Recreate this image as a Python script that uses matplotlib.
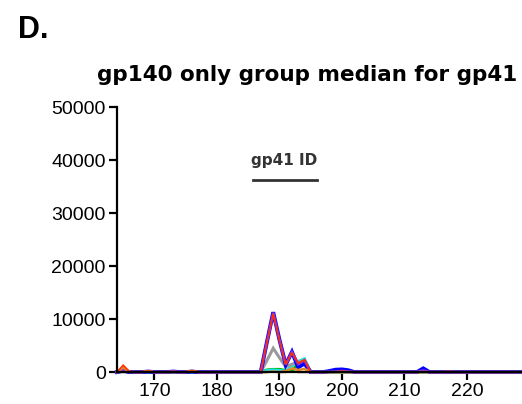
import matplotlib
matplotlib.use("Agg")
import matplotlib.pyplot as plt

plt.rcParams['font.family'] = ['Liberation Sans', 'DejaVu Sans']

# positions 164..229
positions = list(range(164, 230))

# each series: 6 rows of 11 values (164-174, 175-185, 186-196, 197-207, 208-218, 219-229)
red = ([0, 1300, 100, 0, 0, 200, 0, 0, 0, 100, 0] +
       [0, 250, 0, 0, 0, 0, 0, 0, 0, 0, 0] +
       [0, 0, 5600, 11000, 6000, 1400, 3700, 1700, 2300, 0, 0] +
       [0, 0, 0, 200, 0, 0, 0, 0, 0, 0, 0] +
       [0, 0, 0, 0, 0, 0, 0, 0, 0, 150, 0] +
       [0, 0, 0, 0, 0, 0, 0, 0, 0, 0, 0])
purple = ([0, 400, 100, 0, 0, 150, 0, 0, 0, 150, 0] +
          [0, 150, 0, 0, 0, 0, 0, 0, 0, 0, 0] +
          [0, 0, 5650, 11200, 6050, 1450, 3750, 1500, 2200, 0, 0] +
          [0, 0, 100, 200, 100, 0, 0, 0, 0, 0, 0] +
          [0, 0, 0, 0, 0, 300, 0, 0, 0, 0, 0] +
          [0, 0, 0, 0, 0, 0, 0, 0, 0, 0, 0])
blue = ([0, 250, 0, 0, 0, 100, 0, 0, 0, 100, 0] +
        [0, 100, 0, 0, 0, 0, 0, 0, 0, 0, 0] +
        [0, 0, 5700, 11300, 6100, 1400, 3800, 900, 1600, 0, 0] +
        [0, 200, 450, 500, 350, 0, 0, 0, 0, 0, 0] +
        [0, 0, 0, 0, 0, 700, 0, 0, 0, 0, 0] +
        [0, 0, 0, 0, 0, 0, 0, 0, 0, 0, 0])
gray = ([0, 300, 0, 0, 0, 0, 0, 0, 0, 0, 0] +
        [0, 0, 0, 0, 0, 0, 0, 0, 0, 0, 0] +
        [0, 0, 2200, 4500, 2700, 1000, 1500, 1800, 2200, 0, 0] +
        [0, 0, 0, 0, 0, 0, 0, 0, 0, 0, 0] +
        [0, 0, 0, 0, 0, 0, 0, 0, 0, 0, 0] +
        [0, 0, 0, 0, 0, 0, 0, 0, 0, 0, 0])
green = ([0, 600, 0, 0, 0, 0, 0, 0, 0, 0, 0] +
         [0, 0, 0, 0, 0, 0, 0, 0, 0, 0, 0] +
         [0, 0, 400, 500, 500, 300, 300, 1500, 2100, 0, 0] +
         [0, 0, 0, 0, 0, 0, 0, 0, 0, 0, 0] +
         [0, 0, 0, 0, 0, 0, 0, 0, 0, 0, 0] +
         [0, 0, 0, 0, 0, 0, 0, 0, 0, 0, 0])
cyan = ([0, 200, 0, 0, 0, 0, 0, 0, 0, 0, 0] +
        [0, 0, 0, 0, 0, 0, 0, 0, 0, 0, 0] +
        [0, 0, 300, 400, 300, 200, 1200, 2000, 2500, 0, 0] +
        [0, 0, 0, 0, 0, 0, 0, 0, 0, 0, 0] +
        [0, 0, 0, 0, 0, 0, 0, 0, 0, 0, 0] +
        [0, 0, 0, 0, 0, 0, 0, 0, 0, 0, 0])
orange = ([0, 900, 0, 0, 0, 200, 0, 0, 0, 0, 0] +
          [0, 250, 0, 0, 0, 0, 0, 0, 0, 0, 0] +
          [0, 0, 0, 100, 0, 200, 700, 400, 600, 0, 0] +
          [0, 0, 0, 0, 0, 0, 0, 0, 0, 0, 0] +
          [0, 0, 0, 0, 0, 0, 0, 0, 0, 0, 0] +
          [0, 0, 0, 0, 0, 0, 0, 0, 0, 0, 0])
black = ([0, 0, 0, 0, 0, 0, 0, 0, 0, 0, 0] +
         [0, 0, 0, 0, 0, 0, 0, 0, 0, 0, 0] +
         [0, 0, 0, 150, 0, 0, 100, 0, 0, 0, 0] +
         [0, 0, 0, 0, 0, 0, 0, 0, 0, 0, 0] +
         [0, 0, 0, 0, 0, 0, 0, 0, 0, 0, 0] +
         [0, 0, 0, 0, 0, 0, 0, 0, 0, 0, 0])

series = [
    (black, '#000000', 1.5),
    (green, '#00b400', 2.2),
    (cyan, '#20e0e0', 2.2),
    (gray, '#9a9a9a', 2.2),
    (blue, '#0000ff', 2.8),
    (purple, '#8a2be2', 2.0),
    (orange, '#e08a2a', 1.8),
    (red, '#ff3000', 1.2),
]

yticks = [0, 10000, 20000, 30000, 40000, 50000]
xticks = [170, 180, 190, 200, 210, 220]

fig = plt.figure(figsize=(5.22, 4.04), dpi=100)
ax = fig.add_axes([0.224, 0.079, 0.776, 0.656])

for vals, col, lw in series:
    ax.plot(positions, vals, color=col, lw=lw, clip_on=False, solid_joinstyle='miter')

ax.set_xlim(164, 228.8)
ax.set_ylim(0, 50000)
ax.set_yticks(yticks)
ax.set_yticklabels([str(v) for v in yticks])
ax.set_xticks(xticks)
ax.set_xticklabels([str(v) for v in xticks])
ax.spines['top'].set_visible(False)
ax.spines['right'].set_visible(False)
ax.spines['left'].set_linewidth(1.6)
ax.spines['bottom'].set_linewidth(1.6)
ax.tick_params(axis='both', length=6, width=1.6, labelsize=14, pad=2)

# gp41 ID annotation
ax.plot([185.7, 196.0], [36200, 36200], color='#333333', lw=2.0)
ax.text(190.8, 40000, 'gp41 ID', ha='center', va='center', fontsize=11,
        fontweight='bold', color='#333333', family=['DejaVu Sans'])

fig.text(0.589, 0.814, 'gp140 only group median for gp41', ha='center', va='center',
         fontsize=15.5, fontweight='bold', family=['DejaVu Sans'])
fig.text(0.034, 0.925, 'D.', ha='left', va='center', fontsize=22, fontweight='bold')

fig.savefig('out.png', dpi=100)
